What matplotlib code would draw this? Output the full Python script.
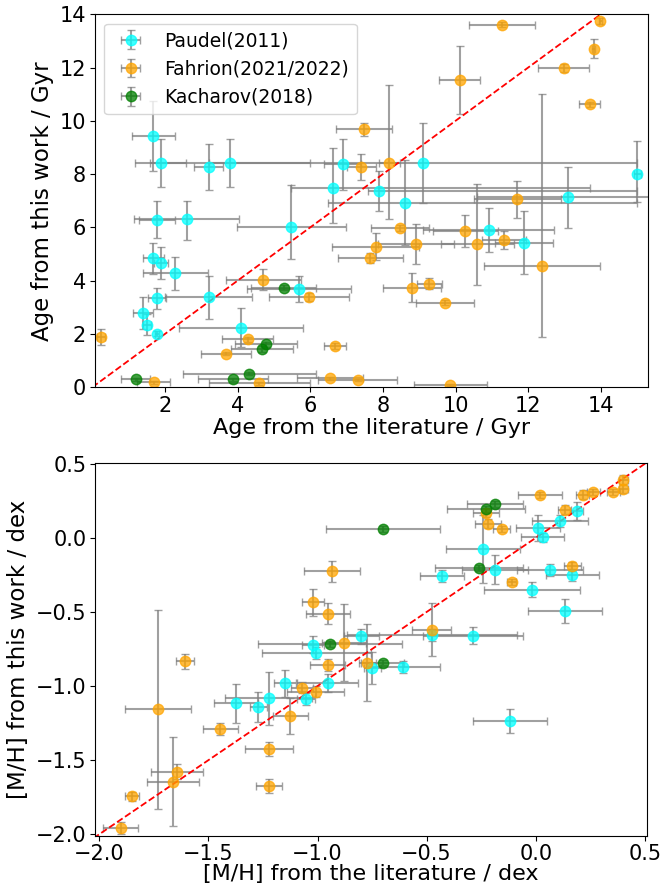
import matplotlib
matplotlib.use("Agg")
import matplotlib.pyplot as plt
import numpy as np

# ---------------- Top panel: ages ----------------
pau_age_lit = [1.68, 1.88, 3.20, 3.79, 6.89, 6.62, 7.89, 9.10, 8.60, 15.0, 13.09, 10.91, 11.88,
               5.47, 1.78, 2.60, 1.68, 1.89, 2.28, 1.78, 3.20, 1.39, 1.50, 1.78, 4.09, 5.70]
pau_age_new = [9.43, 8.40, 8.27, 8.40, 8.37, 7.46, 7.38, 8.43, 6.92, 8.02, 7.12, 5.89, 5.43,
               6.00, 6.29, 6.33, 4.83, 4.67, 4.27, 3.33, 3.37, 2.79, 2.35, 2.01, 2.23, 3.68]
pau_age_xlo = [0.6, 0.7, 0.4, 2.2, 0.5, 1.15, 0.3, 5.9, 2.1, 0.1, 2.5, 1.8, 0.8,
               1.5, 0.5, 1.45, 0.3, 0.2, 0.9, 0.24, 1.2, 0.27, 0.1, 0.05, 1.7, 1.43]
pau_age_xhi = [0.6, 0.7, 0.4, 2.2, 0.5, 7.07, 7.1, 5.9, 6.4, 0.1, 2.5, 1.8, 0.8,
               1.5, 0.5, 1.45, 0.3, 0.2, 0.9, 0.24, 1.2, 0.27, 0.1, 0.05, 1.7, 1.43]
pau_age_ylo = [1.3, 0.9, 0.87, 0.9, 0.95, 1.3, 0.75, 1.5, 1.6, 1.06, 1.16, 0.83, 1.2,
               1.2, 0.7, 0.8, 0.6, 0.6, 0.63, 0.4, 0.82, 0.6, 0.4, 0.1, 0.73, 0.48]
pau_age_yhi = [1.3, 0.9, 0.87, 0.9, 0.95, 1.5, 0.75, 1.5, 1.6, 1.23, 1.16, 0.83, 1.2,
               1.6, 0.7, 0.65, 0.6, 0.6, 0.63, 0.4, 0.82, 0.6, 0.4, 0.1, 0.73, 0.48]

fah_age_lit = [11.28, 13.99, 13.80, 12.98, 13.69, 10.11, 7.48, 8.18, 7.40, 7.65, 7.80, 8.48,
               8.90, 10.27, 10.60, 11.33, 12.37, 8.80, 9.28, 9.70, 7.30, 9.86, 6.54, 4.71,
               5.97, 4.28, 3.68, 6.68, 0.24, 1.69, 4.60, 11.70]
fah_age_new = [13.61, 13.75, 12.71, 12.00, 10.62, 11.52, 9.68, 8.43, 8.27, 4.85, 5.27, 5.98,
               5.37, 5.87, 5.37, 5.52, 4.55, 3.74, 3.89, 3.17, 0.27, 0.08, 0.33, 4.04,
               3.37, 1.80, 1.26, 1.55, 1.89, 0.18, 0.14, 7.05]
fah_age_xerr = [0.9, 0.05, 0.05, 0.7, 0.3, 0.57, 0.78, 0.3, 0.4, 0.9, 1.2, 0.8,
                1.05, 0.9, 1.0, 0.6, 1.6, 0.8, 0.35, 0.8, 1.1, 1.0, 0.9, 1.03,
                1.1, 0.7, 0.7, 0.3, 0.1, 0.45, 1.4, 1.2]
fah_age_ylo = [0.1, 0.1, 0.36, 0.15, 0.1, 1.28, 0.25, 2.1, 0.5, 0.2, 0.5, 0.1,
               0.75, 0.6, 1.54, 0.35, 2.66, 0.55, 0.2, 0.1, 0.05, 0.05, 0.05, 0.4,
               0.15, 0.1, 0.05, 0.1, 0.3, 0.05, 0.05, 0.7]
fah_age_yhi = [0.1, 0.1, 0.36, 0.15, 0.1, 1.28, 0.25, 2.9, 0.5, 0.2, 0.5, 0.1,
               0.75, 0.6, 2.25, 0.35, 6.45, 0.55, 0.2, 0.1, 0.05, 0.05, 0.05, 0.4,
               0.15, 0.1, 0.05, 0.1, 0.3, 0.05, 0.05, 0.7]

kac_age_lit = [5.27, 4.78, 4.66, 4.32, 3.87, 1.19]
kac_age_new = [3.73, 1.61, 1.43, 0.51, 0.29, 0.29]
kac_age_xerr = [0.9, 0.85, 0.85, 1.83, 0.97, 0.4]
kac_age_yerr = [0.1, 0.1, 0.1, 0.05, 0.05, 0.05]

# ---------------- Bottom panel: metallicities ----------------
pau_mh_lit = [0.188, 0.111, 0.012, 0.032, -0.24, -0.187, -0.428, 0.066, 0.168, -0.017, 0.134,
              -0.477, -0.286, -0.80, -1.02, -1.006, -0.748, -0.61, -0.118, -1.149, -0.953,
              -1.052, -1.223, -1.373, -1.271]
pau_mh_new = [0.18, 0.113, 0.068, 0.004, -0.074, -0.214, -0.255, -0.214, -0.248, -0.35, -0.492,
              -0.654, -0.659, -0.665, -0.72, -0.774, -0.879, -0.872, -1.234, -0.981, -0.977,
              -1.089, -1.082, -1.116, -1.143]
pau_mh_xerr = [0.03, 0.13, 0.1, 0.1, 0.17, 0.15, 0.1, 0.15, 0.12, 0.22, 0.17,
               0.39, 0.23, 0.08, 0.05, 0.25, 0.04, 0.17, 0.17, 0.05, 0.14,
               0.04, 0.2, 0.1, 0.04]
pau_mh_yerr = [0.06, 0.04, 0.09, 0.03, 0.23, 0.1, 0.04, 0.04, 0.04, 0.05, 0.08,
               0.04, 0.06, 0.05, 0.06, 0.04, 0.11, 0.04, 0.08, 0.09, 0.06,
               0.04, 0.18, 0.13, 0.1]

fah_mh_lit = [0.402, 0.402, 0.356, 0.264, 0.215, 0.02, 0.134, -0.228, -0.217, -0.156, -0.11,
              0.168, -0.477, -0.933, -1.02, -0.953, -0.879, -0.772, -0.953, -1.072, -1.009,
              -1.124, -1.445, -1.223, -1.223, -1.645, -1.663, -1.85, -1.901, -1.73, -1.607]
fah_mh_new = [0.394, 0.33, 0.311, 0.311, 0.293, 0.288, 0.191, 0.169, 0.095, 0.061, -0.298,
              -0.192, -0.62, -0.226, -0.435, -0.512, -0.706, -0.841, -0.857, -1.01, -1.037,
              -1.202, -1.29, -1.425, -1.675, -1.578, -1.646, -1.743, -1.957, -1.157, -0.834]
fah_mh_xerr = [0.02, 0.02, 0.03, 0.03, 0.03, 0.1, 0.03, 0.06, 0.06, 0.04, 0.02,
               0.04, 0.09, 0.13, 0.05, 0.1, 0.1, 0.04, 0.08, 0.05, 0.13,
               0.08, 0.08, 0.11, 0.06, 0.12, 0.12, 0.03, 0.08, 0.15, 0.04]
fah_mh_yerr = [0.03, 0.03, 0.02, 0.02, 0.03, 0.02, 0.03, 0.03, 0.03, 0.02, 0.02,
               0.03, 0.18, 0.07, 0.09, 0.07, 0.26, 0.26, 0.04, 0.04, 0.04,
               0.12, 0.04, 0.05, 0.05, 0.05, 0.3, 0.03, 0.04, 0.67, 0.05]

kac_mh_lit = [-0.70, -0.942, -0.702, -0.187, -0.228, -0.26]
kac_mh_new = [0.061, -0.713, -0.841, 0.23, 0.198, -0.203]
kac_mh_xerr = [0.26, 0.33, 0.1, 0.13, 0.18, 0.2]
kac_mh_yerr = [0.02, 0.02, 0.02, 0.02, 0.02, 0.02]

labels = ["Paudel(2011)", "Fahrion(2021/2022)", "Kacharov(2018)"]
colors = ["cyan", "orange", "green"]

plt.rcParams['font.family'] = ['DejaVu Sans']
fig = plt.figure(figsize=(6.64, 8.90), dpi=100)
ax1 = fig.add_axes([0.143, 0.565, 0.833, 0.419])
ax2 = fig.add_axes([0.143, 0.061, 0.832, 0.419])

ekw = dict(fmt='o', ecolor='gray', capsize=3, elinewidth=1.5, markersize=7.5, alpha=0.75)

ax1.errorbar(pau_age_lit, pau_age_new, xerr=[pau_age_xlo, pau_age_xhi],
             yerr=[pau_age_ylo, pau_age_yhi], color=colors[0], label=labels[0], **ekw)
ax1.errorbar(fah_age_lit, fah_age_new, xerr=fah_age_xerr,
             yerr=[fah_age_ylo, fah_age_yhi], color=colors[1], label=labels[1], **ekw)
ax1.errorbar(kac_age_lit, kac_age_new, xerr=kac_age_xerr, yerr=kac_age_yerr,
             color=colors[2], label=labels[2], **ekw)
ax1.plot([0, 15], [0, 15], 'r--', lw=1.3)
ax1.set_xlim(0.07, 15.3)
ax1.set_ylim(0, 14)
ax1.set_xticks([2, 4, 6, 8, 10, 12, 14])
ax1.set_yticks([0, 2, 4, 6, 8, 10, 12, 14])
ax1.set_xlabel("Age from the literature / Gyr", fontsize=16, labelpad=1)
ax1.set_ylabel("Age from this work / Gyr", fontsize=16.5, labelpad=4)
ax1.tick_params(labelsize=15, pad=3)
ax1.legend(loc='upper left', fontsize=13.5)

ax2.errorbar(pau_mh_lit, pau_mh_new, xerr=pau_mh_xerr, yerr=pau_mh_yerr,
             color=colors[0], label=labels[0], **ekw)
ax2.errorbar(fah_mh_lit, fah_mh_new, xerr=fah_mh_xerr, yerr=fah_mh_yerr,
             color=colors[1], label=labels[1], **ekw)
ax2.errorbar(kac_mh_lit, kac_mh_new, xerr=kac_mh_xerr, yerr=kac_mh_yerr,
             color=colors[2], label=labels[2], **ekw)
ax2.plot([-2.1, 0.6], [-2.1, 0.6], 'r--', lw=1.3)
ax2.set_xlim(-2.02, 0.512)
ax2.set_ylim(-2.01, 0.507)
ax2.set_xticks([-2.0, -1.5, -1.0, -0.5, 0.0, 0.5])
ax2.set_yticks([-2.0, -1.5, -1.0, -0.5, 0.0, 0.5])
ax2.set_xlabel("[M/H] from the literature / dex", fontsize=16, labelpad=0)
ax2.set_ylabel("[M/H] from this work / dex", fontsize=16.5, labelpad=4)
ax2.tick_params(labelsize=15, pad=2.5)

fig.savefig("out.png", dpi=100)
